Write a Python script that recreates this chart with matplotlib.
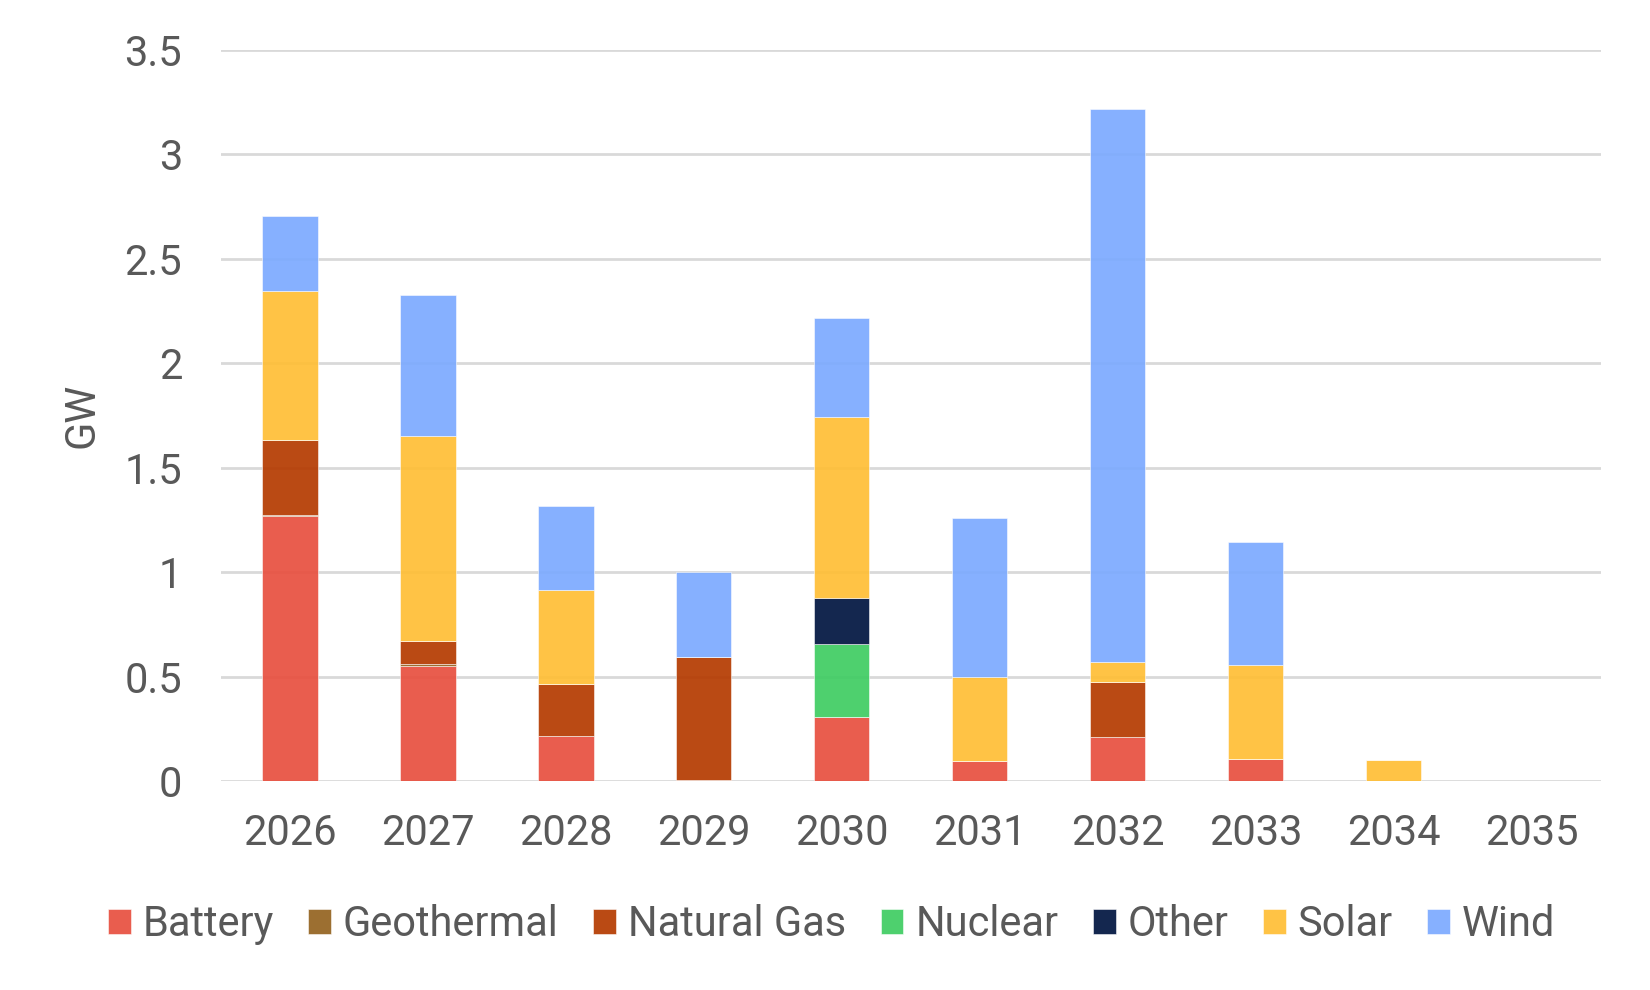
import numpy as np
import matplotlib.pyplot as plt

plt.rcParams['font.family'] = ['Roboto', 'DejaVu Sans']

years = ['2026', '2027', '2028', '2029', '2030', '2031', '2032', '2033', '2034', '2035']
battery = [1.27, 0.55, 0.215, 0.005, 0.305, 0.095, 0.21, 0.105, 0.0, 0.0]
geothermal = [0.005, 0.01, 0.0, 0.0, 0.0, 0.0, 0.0, 0.0, 0.0, 0.0]
natural_gas = [0.355, 0.11, 0.25, 0.59, 0.0, 0.0, 0.265, 0.0, 0.0, 0.0]
nuclear = [0.0, 0.0, 0.0, 0.0, 0.35, 0.0, 0.0, 0.0, 0.0, 0.0]
other = [0.0, 0.0, 0.0, 0.0, 0.22, 0.0, 0.0, 0.0, 0.0, 0.0]
solar = [0.715, 0.98, 0.45, 0.0, 0.865, 0.405, 0.095, 0.45, 0.10, 0.0]
wind = [0.36, 0.675, 0.40, 0.405, 0.475, 0.76, 2.645, 0.59, 0.0, 0.0]

series = [
    ('Battery', battery, '#E84F3F'),
    ('Geothermal', geothermal, '#94631F'),
    ('Natural Gas', natural_gas, '#B43A00'),
    ('Nuclear', nuclear, '#3FCC62'),
    ('Other', other, '#001440'),
    ('Solar', solar, '#FFBE35'),
    ('Wind', wind, '#7CAAFF'),
]

fig, ax = plt.subplots(figsize=(16.5, 9.9), dpi=100)
fig.subplots_adjust(left=0.134, right=0.970, top=0.95, bottom=0.211)

x = np.arange(len(years))
bottom = np.zeros(len(years))
for name, vals, col in series:
    vals = np.array(vals)
    ax.bar(x, vals, 0.4, bottom=bottom, color=col, alpha=0.92, label=name,
           edgecolor='white', linewidth=0.4, zorder=3)
    bottom += vals

ax.set_ylim(0, 3.5)
ax.set_yticks([0, 0.5, 1, 1.5, 2, 2.5, 3, 3.5])
ax.set_yticklabels(['0', '0.5', '1', '1.5', '2', '2.5', '3', '3.5'])
ax.set_xlim(-0.5, 9.5)
ax.set_xticks(x)
ax.set_xticklabels(years)
ax.grid(axis='y', color='#D9D9D9', linewidth=2, zorder=0)
for s in ax.spines.values():
    s.set_visible(False)
ax.tick_params(length=0, labelsize=30, colors='#595959', pad=23)
ax.tick_params(axis='y', pad=28)
ax.set_ylabel('GW', fontsize=30, color='#595959', labelpad=16)

fig.legend(*ax.get_legend_handles_labels(), loc='center', bbox_to_anchor=(0.504, 0.066),
           ncol=7, frameon=False, fontsize=30, labelcolor='#595959',
           handlelength=0.55, handleheight=0.55, handletextpad=0.28, columnspacing=0.83)

fig.savefig('out.png')
